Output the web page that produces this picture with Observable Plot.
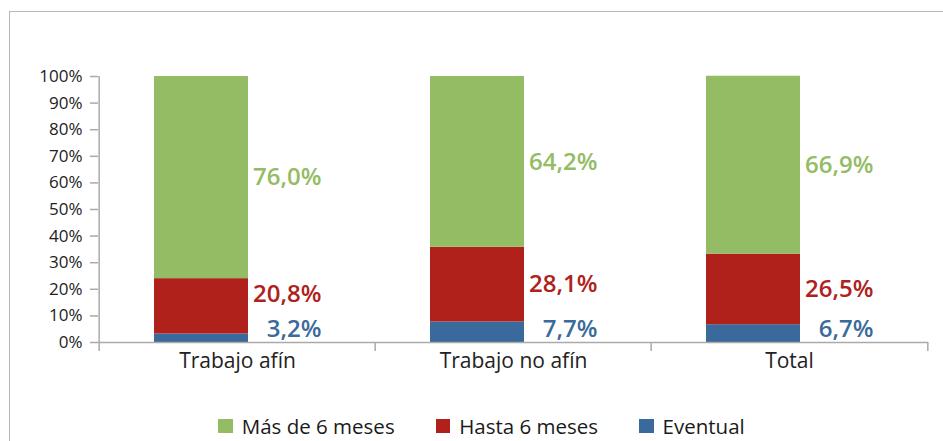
<!DOCTYPE html>
<html>
<head>
<meta charset="utf-8">
<script src="https://cdn.jsdelivr.net/npm/d3@7"></script>
<script src="https://cdn.jsdelivr.net/npm/@observablehq/plot@0.6"></script>
<style>
  html, body { margin: 0; padding: 0; background: #fff; }
  #wrap { position: relative; width: 943px; height: 441px; overflow: hidden; font-family: "Open Sans", sans-serif; }
  #frame { position: absolute; left: 9px; top: 11px; right: -2px; bottom: -2px; border-left: 1.5px solid #b8b8b8; border-top: 1.5px solid #b8b8b8; }
  #legend { position: absolute; left: 0; right: 0; top: 416px; display: flex; justify-content: center; gap: 41px; font-size: 20.5px; line-height: 20px; color: #1a1a1a; padding-left: 20px; }
  .item { display: flex; align-items: center; gap: 9px; }
  .sw { width: 14.5px; height: 14.5px; display: inline-block; }
  #chart { position: absolute; left: 0; top: 0; }
</style>
</head>
<body>
<div id="wrap">
  <div id="frame"></div>
  <div id="chart"></div>
  <div id="legend"></div>
</div>
<script>
const categories = ["Trabajo afín", "Trabajo no afín", "Total"];
const seriesNames = ["Eventual", "Hasta 6 meses", "Más de 6 meses"];
const eventual = [3.2, 7.7, 6.7];
const hasta6 = [20.8, 28.1, 26.5];
const mas6 = [76.0, 64.2, 66.9];
const yTicks = [0, 10, 20, 30, 40, 50, 60, 70, 80, 90, 100];
const colors = {"Más de 6 meses": "#94bc65", "Hasta 6 meses": "#b0211c", "Eventual": "#3a6a9b"};
const legendOrder = ["Más de 6 meses", "Hasta 6 meses", "Eventual"];

const valuesBySeries = {"Eventual": eventual, "Hasta 6 meses": hasta6, "Más de 6 meses": mas6};
const data = [];
categories.forEach((c, i) => {
  let base = 0;
  let prevLabel = -Infinity;
  seriesNames.forEach((s, k) => {
    const v = valuesBySeries[s][i];
    let mid = base + v / 2;
    if (k === 0) mid = Math.max(mid, 5);
    else if (k === 1) mid = Math.max(mid, prevLabel + 13);
    prevLabel = mid;
    data.push({cat: c, series: s, value: v, y1: base, y2: base + v, labelY: mid});
    base += v;
  });
});

const W = 943, H = 441, mL = 98, mR = 15;
const bw = (W - mL - mR) / categories.length;

const chart = Plot.plot({
  width: W,
  height: H,
  marginLeft: mL,
  marginRight: mR,
  marginTop: 76,
  marginBottom: 99,
  style: {fontFamily: "Open Sans, sans-serif", background: "transparent", color: "#222"},
  x: {domain: categories, padding: 0},
  y: {domain: [0, 100]},
  marks: [
    Plot.rectY(data, {x: "cat", y1: "y1", y2: "y2", fill: d => colors[d.series], insetLeft: 55, insetRight: 127}),
    Plot.ruleY([0], {stroke: "#aaa", strokeWidth: 1.5}),
    Plot.ruleX([categories[0]], {x: d => d, y1: 100, y2: 0, dx: -bw / 2, insetBottom: -9, stroke: "#aaa", strokeWidth: 1.5}),
    Plot.ruleX(categories.slice(1), {x: d => d, y1: 0, y2: 0, dx: -bw / 2, insetBottom: -9, stroke: "#aaa", strokeWidth: 1.5}),
    Plot.ruleX([categories[categories.length - 1]], {x: d => d, y1: 0, y2: 0, dx: bw / 2, insetBottom: -9, stroke: "#aaa", strokeWidth: 1.5}),
    Plot.axisY({ticks: yTicks, tickFormat: d => d + "%", tickSize: 8, tickPadding: 8, stroke: "#aaa", strokeWidth: 1.5, fontSize: 17, fill: "#222", label: null}),
    Plot.axisX({tickSize: 0, tickPadding: 11, fontSize: 21, fill: "#222", label: null}),
    Plot.text(data, {x: "cat", y: "labelY", text: d => d.value.toFixed(1).replace(".", ",") + "%", fill: d => colors[d.series], textAnchor: "end", dx: 84, fontSize: 24, fontWeight: 600})
  ]
});
document.getElementById("chart").append(chart);

const legend = document.getElementById("legend");
legendOrder.forEach(s => {
  const it = document.createElement("div");
  it.className = "item";
  const sw = document.createElement("span");
  sw.className = "sw";
  sw.style.background = colors[s];
  const t = document.createElement("span");
  t.textContent = s;
  it.append(sw, t);
  legend.append(it);
});
</script>
</body>
</html>
